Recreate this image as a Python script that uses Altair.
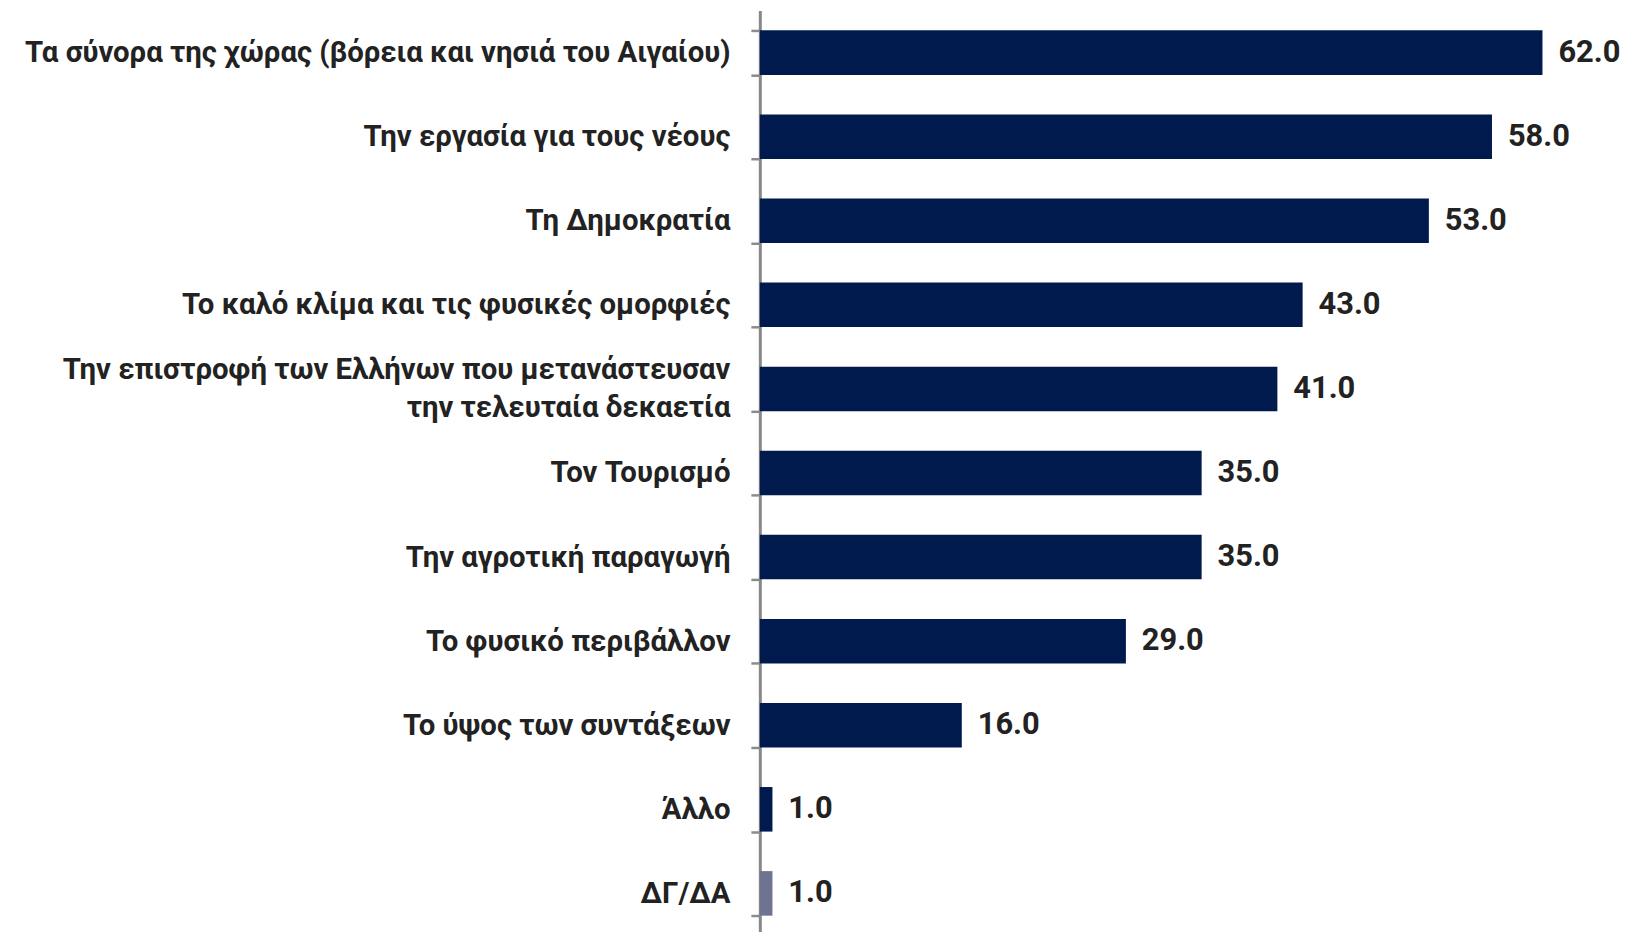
import altair as alt
import pandas as pd

categories = [
    "Τα σύνορα της χώρας (βόρεια και νησιά του Αιγαίου)",
    "Την εργασία για τους νέους",
    "Τη Δημοκρατία",
    "Το καλό κλίμα και τις φυσικές ομορφιές",
    "Την επιστροφή των Ελλήνων που μετανάστευσαν|την τελευταία δεκαετία",
    "Τον Τουρισμό",
    "Την αγροτική παραγωγή",
    "Το φυσικό περιβάλλον",
    "Το ύψος των συντάξεων",
    "Άλλο",
    "ΔΓ/ΔΑ",
]
values = [62.0, 58.0, 53.0, 43.0, 41.0, 35.0, 35.0, 29.0, 16.0, 1.0, 1.0]
groups = ["main"] * 10 + ["dkna"]

df = pd.DataFrame({"cat": categories, "val": values, "grp": groups})

FONT = "Roboto"

y = alt.Y(
    "cat:N",
    sort=categories,
    title=None,
    scale=alt.Scale(paddingInner=0.47, paddingOuter=0.235),
    axis=alt.Axis(
        labelExpr="datum.value ? split(datum.value, '|') : ''",
        labelFont=FONT,
        labelFontSize=29.5,
        labelFontWeight="bold",
        labelColor="#222222",
        labelLineHeight=38,
        labelOffset={
            "condition": {"test": "datum.value && indexof(datum.value, '|') >= 0", "value": -19},
            "value": 0,
        },
        labelPadding=21,
        labelLimit=0,
        tickBand="extent",
        tickSize=9,
        tickWidth=2.5,
        tickColor="#8c8c8c",
        domainColor="#888888",
        domainWidth=3,
        grid=False,
    ),
)

x = alt.X(
    "val:Q",
    title=None,
    scale=alt.Scale(domain=[0, 62], nice=False),
    axis=None,
)

bars = alt.Chart(df).mark_bar().encode(
    x=x,
    y=y,
    color=alt.Color(
        "grp:N",
        scale=alt.Scale(domain=["main", "dkna"], range=["#001a4e", "#6e7391"]),
        legend=None,
    ),
)

labels = alt.Chart(df).mark_text(
    align="left",
    baseline="middle",
    dx=16,
    font=FONT,
    fontSize=31,
    fontWeight="bold",
    color="#222222",
).encode(
    x=x,
    y=y,
    text=alt.Text("val:Q", format=".1f"),
)

chart = (
    alt.layer(bars, labels)
    .properties(
        width=787,
        height=930,
        autosize=alt.AutoSizeParams(type="none"),
        padding={"top": 0, "left": 756, "right": 85, "bottom": 0},
    )
    .configure_view(stroke=None)
)

chart.save("out.html", embed_options={"renderer": "svg", "actions": False})
